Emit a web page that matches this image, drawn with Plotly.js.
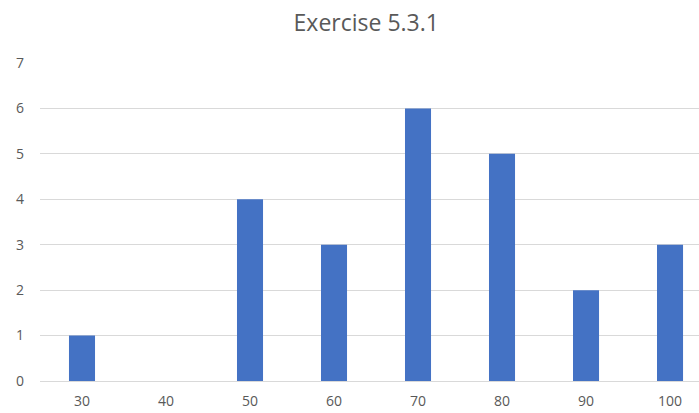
<!DOCTYPE html>
<html><head><meta charset="utf-8">
<script src="https://cdn.plot.ly/plotly-3.0.1.min.js"></script>
<style>html,body{margin:0;padding:0;background:#fff;}</style>
</head><body>
<div id="chart" style="width:699px;height:413px;"></div>
<script>
const categories = ["30","40","50","60","70","80","90","100"];
const values = [1, 0, 4, 3, 6, 5, 2, 3];
const yTicks = [0,1,2,3,4,5,6,7];

const trace = {
  type: 'bar',
  x: categories,
  y: values,
  marker: {color: '#4472C4'},
  hoverinfo: 'x+y'
};
const layout = {
  width: 699, height: 413,
  margin: {l: 40, r: 0, t: 63, b: 32},
  paper_bgcolor: '#fff', plot_bgcolor: '#fff',
  font: {family: 'Open Sans, sans-serif', color: '#595959'},
  title: {text: 'Exercise 5.3.1', x: 0.524, xref: 'container', xanchor: 'center',
          y: 0.945, yref: 'container', yanchor: 'middle',
          font: {size: 23, color: '#595959', family: 'Open Sans, sans-serif'}},
  bargap: 0.69,
  xaxis: {type: 'category', range: [-0.5, 7.345], showgrid: false, zeroline: false,
          showline: true, linecolor: '#d9d9d9', linewidth: 1, ticks: '',
          ticklabelstandoff: 7,
          tickfont: {size: 14, color: '#595959'}, fixedrange: true},
  yaxis: {range: [0, 7], tickvals: yTicks, showgrid: true, gridcolor: '#d9d9d9',
          zeroline: false, showline: false, ticks: '', ticklabelstandoff: 15,
          tickfont: {size: 14, color: '#595959'}, fixedrange: true},
  showlegend: false
};
Plotly.newPlot('chart', [trace], layout, {displayModeBar: false, staticPlot: true});
</script>
</body></html>
